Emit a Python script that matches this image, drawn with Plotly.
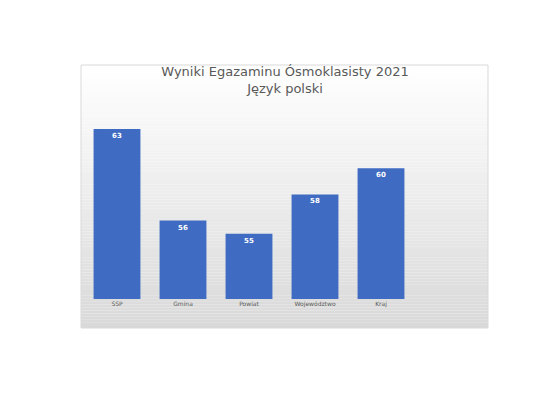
import plotly.graph_objects as go

kategorie = ["SSP", "Gmina", "Powiat", "Województwo", "Kraj", " "]
wyniki = [63, 56, 55, 58, 60, None]

fig = go.Figure()
fig.add_trace(go.Bar(
    x=kategorie, y=wyniki,
    marker=dict(color="#3f6cc2", line=dict(width=0)),
    width=0.71,
    texttemplate="<b>%{y}</b>",
    textposition="inside", insidetextanchor="end",
    textfont=dict(color="white", size=7, family="DejaVu Sans"),
    cliponaxis=False,
))

# gradient panel background
L, R, T, B = 76, 83, 108, 109
pw, ph = 555 - L - R, 400 - T - B
shapes = []
n = 90
x0, x1 = (73 - L) / pw, (480 - L) / pw
y0, y1 = (400 - B - 320) / ph, (400 - B - 57) / ph
for i in range(n):
    g = 255 - (255 - 217) * i / (n - 1)
    ya = y1 - (y1 - y0) * i / n
    yb = y1 - (y1 - y0) * (i + 1) / n
    shapes.append(dict(type="rect", xref="paper", yref="paper", x0=x0, x1=x1,
                       y0=yb, y1=ya, fillcolor=f"rgb({g:.0f},{g:.0f},{g:.0f})",
                       line=dict(width=0), layer="below"))
shapes.append(dict(type="rect", xref="paper", yref="paper", x0=x0, x1=x1, y0=y0, y1=y1,
                   line=dict(color="#d9d9d9", width=1), layer="below"))

fig.update_layout(
    width=555, height=400,
    margin=dict(l=L, r=R, t=T, b=B),
    paper_bgcolor="white", plot_bgcolor="rgba(0,0,0,0)",
    shapes=shapes,
    showlegend=False,
    title=dict(text="Wyniki Egazaminu Ósmoklasisty 2021<br>Język polski",
               x=277 / 555, xanchor="center", y=1 - 68 / 400, yanchor="top",
               font=dict(size=13, color="#595959", family="DejaVu Sans")),
    font=dict(family="DejaVu Sans"),
    xaxis=dict(showline=False, ticks="", tickfont=dict(size=6, color="#595959")),
    yaxis=dict(range=[50, 64], visible=False),
)

fig.write_html("out.html")
